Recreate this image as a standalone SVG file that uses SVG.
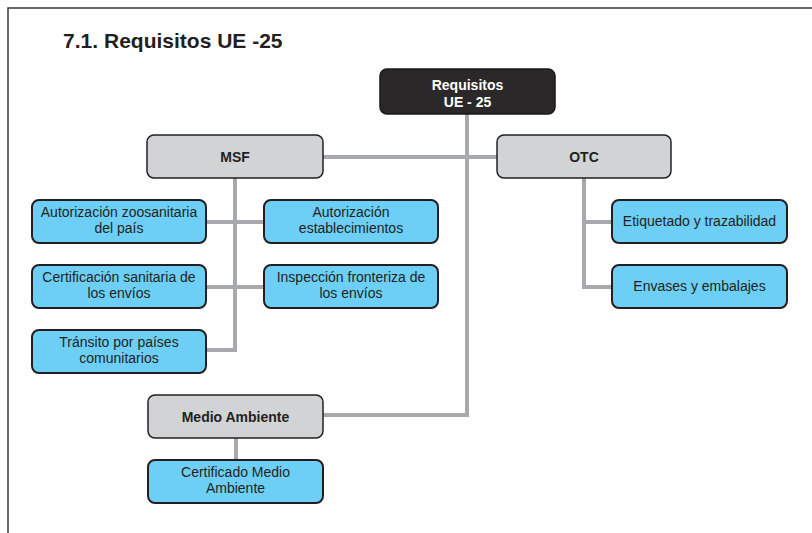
<svg xmlns="http://www.w3.org/2000/svg" width="812" height="533" viewBox="0 0 812 533">
  <style>
    .frame { fill: none; stroke: #3a3a3a; stroke-width: 1.5; }
    .title { font-family: "Liberation Sans", Arial, sans-serif; font-weight: bold; font-size: 21px; fill: #231f20; }
    .root rect { fill: #2b2829; stroke: #1a1718; stroke-width: 1.5; }
    .root text { font-family: "Liberation Sans", Arial, sans-serif; font-weight: bold; font-size: 14px; fill: #ffffff; text-anchor: middle; }
    .cat rect { fill: #d1d3d4; stroke: #231f20; stroke-width: 1.5; }
    .cat text { font-family: "Liberation Sans", Arial, sans-serif; font-weight: bold; font-size: 14px; fill: #231f20; text-anchor: middle; }
    .item rect { fill: #6dcff6; stroke: #231f20; stroke-width: 2; }
    .item text { font-family: "Liberation Sans", Arial, sans-serif; font-size: 14px; fill: #231f20; text-anchor: middle; }
    .conn { fill: none; stroke: #a7a9ac; stroke-width: 4; }
  </style>

  <!-- page frame -->
  <rect class="frame" x="8" y="8" width="830" height="560"/>

  <!-- heading -->
  <text class="title" x="63" y="48">7.1.</text>
  <text class="title" x="104" y="48">Requisitos UE -25</text>

  <!-- connectors -->
  <g id="connectors">
    <path class="conn" d="M467 114 V415 H323"/>
    <path class="conn" d="M323 157 H497"/>
    <path class="conn" d="M235 178 V350 H206"/>
    <path class="conn" d="M206 222 H264"/>
    <path class="conn" d="M206 287 H264"/>
    <path class="conn" d="M584 178 V287 H612"/>
    <path class="conn" d="M584 222 H612"/>
    <path class="conn" d="M236 438 V460"/>
  </g>

  <!-- root -->
  <g id="requisitos" class="root">
    <rect x="380" y="69" width="175" height="45" rx="7"/>
    <text x="467.5" y="90">Requisitos</text>
    <text x="467.5" y="107">UE - 25</text>
  </g>

  <!-- categories -->
  <g id="msf" class="cat">
    <rect x="147" y="135" width="176" height="43" rx="7"/>
    <text x="235" y="161.5">MSF</text>
  </g>
  <g id="otc" class="cat">
    <rect x="497" y="135" width="174" height="43" rx="7"/>
    <text x="584" y="161.5">OTC</text>
  </g>
  <g id="medio-ambiente" class="cat">
    <rect x="148" y="395" width="175" height="43" rx="7"/>
    <text x="235.5" y="421.5">Medio Ambiente</text>
  </g>

  <!-- MSF items -->
  <g id="autorizacion-zoosanitaria" class="item">
    <rect x="32" y="200" width="174" height="43" rx="7"/>
    <text x="119" y="217">Autorización zoosanitaria</text>
    <text x="119" y="233">del país</text>
  </g>
  <g id="autorizacion-establecimientos" class="item">
    <rect x="264" y="200" width="174" height="43" rx="7"/>
    <text x="351" y="216.5">Autorización</text>
    <text x="351" y="232.5">establecimientos</text>
  </g>
  <g id="certificacion-sanitaria" class="item">
    <rect x="32" y="265" width="174" height="43" rx="7"/>
    <text x="119" y="282">Certificación sanitaria de</text>
    <text x="119" y="298">los envíos</text>
  </g>
  <g id="inspeccion-fronteriza" class="item">
    <rect x="264" y="265" width="174" height="43" rx="7"/>
    <text x="351" y="282">Inspección fronteriza de</text>
    <text x="351" y="298">los envíos</text>
  </g>
  <g id="transito" class="item">
    <rect x="32" y="330" width="174" height="43" rx="7"/>
    <text x="119" y="347">Tránsito por países</text>
    <text x="119" y="363">comunitarios</text>
  </g>

  <!-- OTC items -->
  <g id="etiquetado" class="item">
    <rect x="612" y="200" width="175" height="43" rx="7"/>
    <text x="699.5" y="226">Etiquetado y trazabilidad</text>
  </g>
  <g id="envases" class="item">
    <rect x="612" y="265" width="175" height="43" rx="7"/>
    <text x="699.5" y="291">Envases y embalajes</text>
  </g>

  <!-- Medio Ambiente item -->
  <g id="certificado-medio-ambiente" class="item">
    <rect x="148" y="460" width="175" height="43" rx="7"/>
    <text x="235.5" y="477">Certificado Medio</text>
    <text x="235.5" y="493">Ambiente</text>
  </g>
</svg>
